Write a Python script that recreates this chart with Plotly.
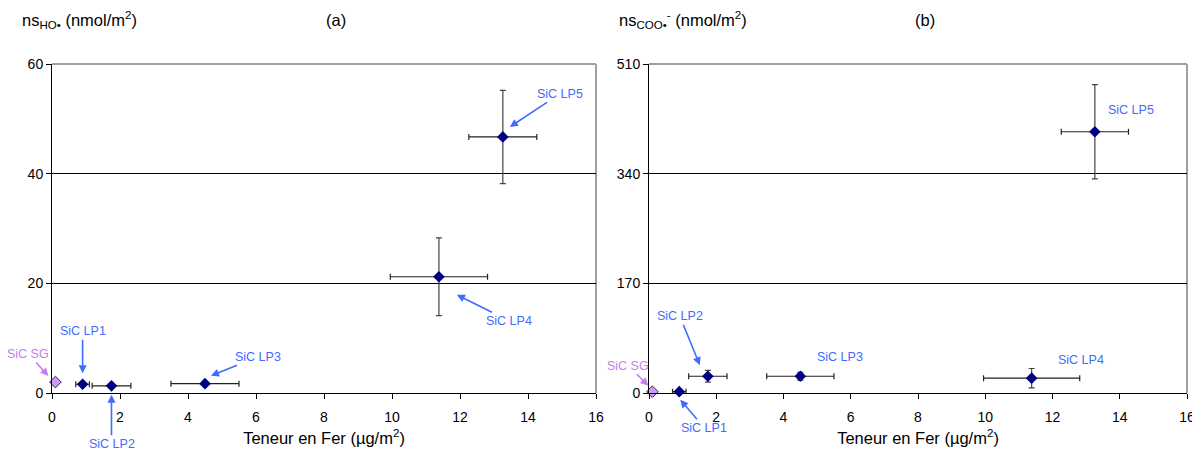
import plotly.graph_objects as go

# ---------------- data ----------------
labels = ["SiC SG", "SiC LP1", "SiC LP2", "SiC LP3", "SiC LP4", "SiC LP5"]
fer = [0.1, 0.9, 1.75, 4.5, 11.38, 13.26]
fer_err = [0.0, 0.2, 0.57, 1.0, 1.43, 1.0]

ho = [2.0, 1.6, 1.3, 1.7, 21.2, 46.7]
ho_err = [0.0, 0.0, 0.0, 0.0, 7.1, 8.5]

coo = [2.0, 2.0, 26.0, 26.0, 23.0, 405.0]
coo_err = [0.0, 0.0, 9.0, 6.0, 15.0, 73.0]

x_ticks = [0, 2, 4, 6, 8, 10, 12, 14, 16]
y_ticks_a = [0, 20, 40, 60]
y_ticks_b = [0, 170, 340, 510]

FONT = "Liberation Sans, Arial, sans-serif"
NAVY = "#000080"
BLUE = "#3F6BFF"
VIOLET = "#C77DF0"
SG_FILL = "#CC99FF"

OFF = 8  # default page body margin of the html page
W, H = 1200 - OFF, 451 - OFF
# plot-area geometry in (screen) pixels
PA = dict(x0=52, x1=596, y0=64, y1=393, xmax=16, ymax=60)
PB = dict(x0=649, x1=1187, y0=64, y1=393, xmax=16, ymax=510)

def fx(px):
    return (px - OFF) / W

def fy(py):
    return 1 - (py - OFF) / H

fig = go.Figure()

def add_series(xa, ya, yvals, yerr):
    fig.add_trace(go.Scatter(
        x=fer[1:], y=yvals[1:], mode="markers",
        marker=dict(symbol="diamond", size=9, color=NAVY, line=dict(width=0)),
        error_x=dict(type="data", array=fer_err[1:], color="#222222", thickness=1.2, width=3),
        error_y=dict(type="data", array=yerr[1:], color="#444444", thickness=1.2, width=3),
        xaxis=xa, yaxis=ya, showlegend=False, cliponaxis=False))
    fig.add_trace(go.Scatter(
        x=fer[:1], y=yvals[:1], mode="markers",
        marker=dict(symbol="diamond", size=9, color=SG_FILL, line=dict(width=1, color="#333333")),
        xaxis=xa, yaxis=ya, showlegend=False, cliponaxis=False))

add_series("x", "y", ho, ho_err)
add_series("x2", "y2", coo, coo_err)

ydom = [fy(PA["y1"]), fy(PA["y0"])]
axis_common = dict(
    showline=True, linecolor="black", linewidth=1,
    ticks="outside", ticklen=5, tickcolor="black",
    tickfont=dict(family=FONT, size=14, color="black"),
    zeroline=False, automargin=False,
)
xtitle = dict(text="Teneur en Fer (µg/m<sup>2</sup>)", font=dict(family=FONT, size=16.5), standoff=8)
fig.update_layout(
    width=W, height=H,
    margin=dict(l=0, r=0, t=0, b=0),
    paper_bgcolor="white", plot_bgcolor="white",
    font=dict(family=FONT, color="black"),
    xaxis=dict(domain=[fx(PA["x0"]), fx(PA["x1"])], range=[0, 16], tickvals=x_ticks,
               showgrid=False, anchor="y", ticklabelstandoff=6, title=xtitle, **axis_common),
    yaxis=dict(domain=ydom, range=[0, 60], tickvals=y_ticks_a, anchor="x",
               showgrid=True, gridcolor="black", gridwidth=1, **axis_common),
    xaxis2=dict(domain=[fx(PB["x0"]), fx(PB["x1"])], range=[0, 16], tickvals=x_ticks,
                showgrid=False, anchor="y2", ticklabelstandoff=6, title=xtitle, **axis_common),
    yaxis2=dict(domain=ydom, range=[0, 510], tickvals=y_ticks_b, anchor="x2",
                showgrid=True, gridcolor="black", gridwidth=1, **axis_common),
)

# grey plot-area borders (top & right)
for xr, yr in [("x domain", "y domain"), ("x2 domain", "y2 domain")]:
    fig.add_shape(type="line", xref=xr, yref=yr, x0=0, x1=1, y0=1, y1=1,
                  line=dict(color="#a0a0a0", width=2), layer="below")
    fig.add_shape(type="line", xref=xr, yref=yr, x0=1, x1=1, y0=0, y1=1,
                  line=dict(color="#a0a0a0", width=2), layer="below")

# titles
def title(text, px, anchor):
    fig.add_annotation(text=text, xref="paper", yref="paper",
                       x=fx(px), y=fy(20), xanchor=anchor, yanchor="middle",
                       showarrow=False, font=dict(family=FONT, size=16.5, color="black"))

title("ns<sub>HO•</sub> (nmol/m<sup>2</sup>)", 20, "left")
title("(a)", 336, "center")
title("ns<sub>COO•</sub><sup>-</sup> (nmol/m<sup>2</sup>)", 617, "left")
title("(b)", 925, "center")

def to_px(P, x, y):
    px = P["x0"] + x / P["xmax"] * (P["x1"] - P["x0"])
    py = P["y1"] - y / P["ymax"] * (P["y1"] - P["y0"])
    return px, py

def callout(P, i, yvals, head_off, text_off, color=BLUE, arrow=True):
    """Label for point i; head_off = arrow head offset from point (px),
    text_off = text centre offset from arrow head (px)."""
    px, py = to_px(P, fer[i], yvals[i])
    hx, hy = px + head_off[0], py + head_off[1]
    if arrow:
        fig.add_annotation(text=labels[i], xref="paper", yref="paper",
                           x=fx(hx), y=fy(hy), ax=text_off[0], ay=text_off[1],
                           showarrow=True, arrowhead=2, arrowsize=1, arrowwidth=1.6,
                           arrowcolor=color, standoff=0,
                           font=dict(family=FONT, size=12.5, color=color))
    else:
        fig.add_annotation(text=labels[i], xref="paper", yref="paper",
                           x=fx(hx + text_off[0]), y=fy(hy + text_off[1]),
                           xanchor="center", yanchor="middle",
                           showarrow=False, font=dict(family=FONT, size=12.5, color=color))

# panel (a)
callout(PA, 0, ho, (-7, -6), (-20, -22), VIOLET)
callout(PA, 1, ho, (0, -11), (0, -42))
callout(PA, 2, ho, (0, 9), (0, 49))
callout(PA, 3, ho, (6, -8), (47, -19))
callout(PA, 4, ho, (18, 18), (52, 26))
callout(PA, 5, ho, (7, -10), (50, -33))

# panel (b)
callout(PB, 0, coo, (-4, -6), (-20, -20), VIOLET)
callout(PB, 1, coo, (1, 8), (24, 28))
callout(PB, 2, coo, (-8, -11), (-20, -49))
callout(PB, 3, coo, (0, 0), (40, -19), arrow=False)
callout(PB, 4, coo, (0, 0), (49, -18), arrow=False)
callout(PB, 5, coo, (0, 0), (36, -22), arrow=False)

fig.write_html("out.html")
